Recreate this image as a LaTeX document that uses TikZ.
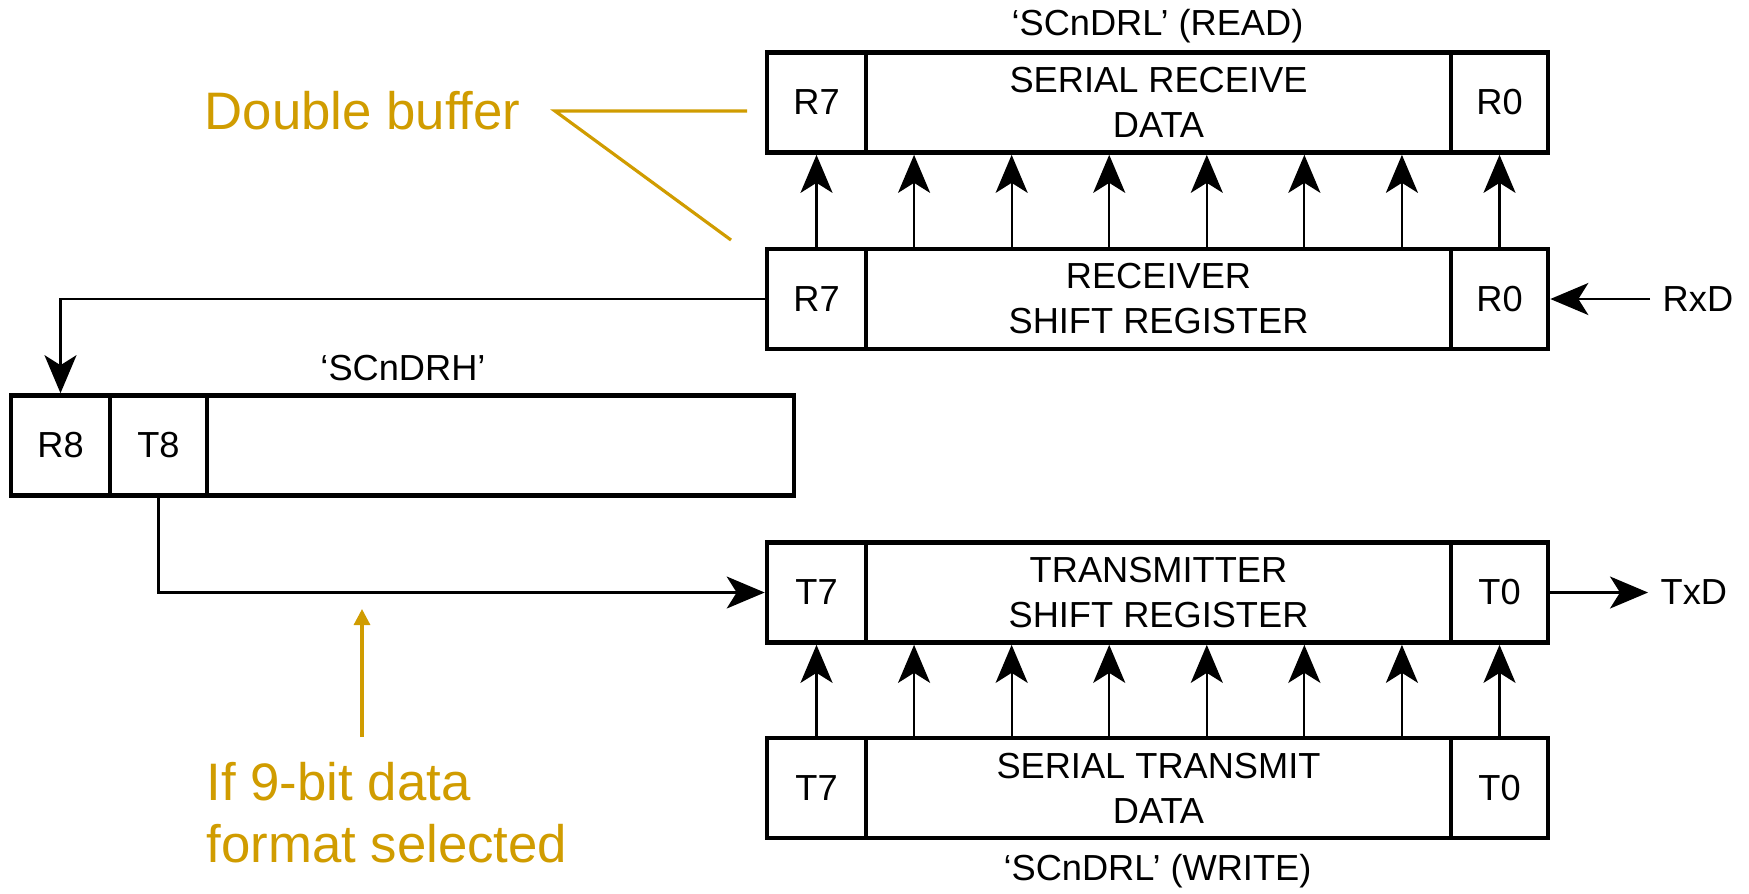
\documentclass[tikz,border=0pt]{standalone}
\usepackage{fontspec}
\setmainfont{Liberation Sans}
\usetikzlibrary{arrows.meta,calc}
\definecolor{gold}{RGB}{208,156,0}

\tikzset{
  cell/.style={draw, line width=1.3pt, inner sep=0pt, minimum height=1cm,
    align=center, font=\fontsize{10.3}{12.8}\selectfont},
  regname/.style={inner sep=0pt, font=\fontsize{10.3}{12.8}\selectfont},
  wire/.style={line width=0.6pt},
  bigtip/.style={-{Stealth[length=3.8mm, width=3.2mm, inset=1.0mm]}},
  note/.style={text=gold, inner sep=0pt, align=left, font=\fontsize{15}{17.6}\selectfont},
  noteline/.style={draw=gold, line width=0.9pt}
}

\begin{document}
\begin{tikzpicture}[x=0.01cm, y=-0.01cm]
\useasboundingbox (0,0) rectangle (1749,893);

% SCnDRL (read)
\node[cell, minimum width=0.99cm] (rdR7) at (816.5,102.5) {R7};
\node[cell, minimum width=5.85cm] (rdmid) at (1158.5,102.5) {SERIAL RECEIVE\\DATA};
\node[cell, minimum width=0.97cm] (rdR0) at (1499.5,102.5) {R0};
\node[regname] (rdname) at (1157.5,26) {‘SCnDRL’ (READ)};

% receiver shift register
\node[cell, minimum width=0.99cm] (rxR7) at (816.5,299) {R7};
\node[cell, minimum width=5.85cm] (rxmid) at (1158.5,299) {RECEIVER\\SHIFT REGISTER};
\node[cell, minimum width=0.97cm] (rxR0) at (1499.5,299) {R0};
\node[regname, inner sep=0.12cm, anchor=west] (rxd) at (1650,299) {RxD};

% SCnDRH
\node[cell, minimum width=0.99cm] (r8) at (60.5,445.5) {R8};
\node[cell, minimum width=0.97cm] (t8) at (158.5,445.5) {T8};
\node[cell, minimum width=5.87cm] (drhrest) at (500.5,445.5) {};
\node[regname] (drhname) at (403,368) {‘SCnDRH’};

% transmitter shift register
\node[cell, minimum width=0.99cm] (txT7) at (816.5,592.5) {T7};
\node[cell, minimum width=5.85cm] (txmid) at (1158.5,592.5) {TRANSMITTER\\SHIFT REGISTER};
\node[cell, minimum width=0.97cm] (txT0) at (1499.5,592.5) {T0};
\node[regname, inner sep=0.12cm, anchor=west] (txd) at (1648,592.5) {TxD};

% SCnDRL (write)
\node[cell, minimum width=0.99cm] (wrT7) at (816.5,788) {T7};
\node[cell, minimum width=5.85cm] (wrmid) at (1158.5,788) {SERIAL TRANSMIT\\DATA};
\node[cell, minimum width=0.97cm] (wrT0) at (1499.5,788) {T0};
\node[regname] (wrname) at (1157.5,871) {‘SCnDRL’ (WRITE)};

% parallel transfers
\foreach \i in {0,...,7} {
  \draw[wire, bigtip] ($(rxR7.north)!\i/7!(rxR0.north)$) -- ($(rdR7.south)!\i/7!(rdR0.south)$);
  \draw[wire, bigtip] ($(wrT7.north)!\i/7!(wrT0.north)$) -- ($(txT7.south)!\i/7!(txT0.south)$);
}

% serial paths
\draw[wire, bigtip] (rxd.west) -- (rxR0.east);
\draw[wire, bigtip] (txT0.east) -- (txd.west);
\draw[wire, bigtip] (rxR7.west) -| (r8.north);
\draw[wire, bigtip] (t8.south) |- (txT7.west);

% notes
\node[note, anchor=west] (dblbuf) at (204,111) {Double buffer};
\coordinate (dblfork) at (555,111);
\coordinate (dbltop) at (747,111);
\coordinate (dblbot) at (731,240);
\draw[noteline] (dbltop) -- (dblfork) -- (dblbot);

\node[note, anchor=north west] (ninebit) at (206,762) {If 9-bit data\\format selected};
\coordinate (ninefoot) at (362,737);
\coordinate (ninetip) at (362,609);
\draw[noteline, -{Triangle[length=1.6mm, width=1.6mm]}] (ninefoot) -- (ninetip);
\end{tikzpicture}
\end{document}
